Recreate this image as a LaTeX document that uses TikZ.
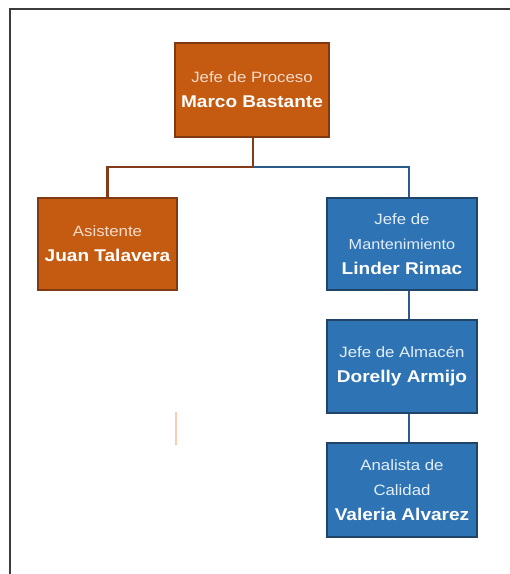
\documentclass[tikz,border=0pt]{standalone}
\usepackage{fontspec}
\setmainfont{Liberation Sans}[FakeStretch=1.12]
\usetikzlibrary{calc}
\definecolor{orgfill}{HTML}{C55A11}
\definecolor{orgline}{HTML}{7F3A12}
\definecolor{bluefill}{HTML}{2E74B5}
\definecolor{blueline}{HTML}{1F4468}
\definecolor{orgwire}{HTML}{843C18}
\definecolor{bluewire}{HTML}{2B5B8A}
\definecolor{orgtext}{HTML}{F6DCCB}
\definecolor{bluetext}{HTML}{E4EEF8}
\definecolor{frameline}{HTML}{3C3C3C}
\definecolor{paleorg}{HTML}{F9CDAE}
\tikzset{
  box/.style={draw, line width=2pt, align=center, inner sep=0pt,
    font=\fontsize{15}{25}\selectfont},
  orgbox/.style={box, fill=orgfill, draw=orgline, text=orgtext},
  bluebox/.style={box, fill=bluefill, draw=blueline, text=bluetext},
  orgwire/.style={draw=orgwire, line width=2.4pt},
  bluewire/.style={draw=bluewire, line width=2.4pt},
}
\newcommand{\who}[1]{{\fontsize{17}{25}\selectfont\bfseries\color{white}#1}}
\begin{document}
\begin{tikzpicture}[x=1pt,y=-1pt]
\useasboundingbox (0,0) rectangle (510,574);
% page frame (only left and top edges inside the view)
\draw[frameline, line width=2pt] (10,574) -- (10,9) -- (510,9);

% boxes
\node[orgbox, minimum width=154pt, minimum height=94pt] (jefe) at (252,90)
  {Jefe de Proceso\\\who{Marco Bastante}};
\node[orgbox, minimum width=139pt, minimum height=92pt] (asist) at (107.5,244)
  {Asistente\\\who{Juan Talavera}};
\node[bluebox, minimum width=150pt, minimum height=92pt] (mant) at (402,244)
  {Jefe de\\{\fontsize{14.5}{25}\selectfont Mantenimiento}\\\who{Linder Rimac}};
\node[bluebox, minimum width=150pt, minimum height=93pt] (alm) at (402,366.5)
  {Jefe de Almacén\\\who{Dorelly Armijo}};
\node[bluebox, minimum width=150pt, minimum height=94pt] (cal) at (402,490)
  {Analista de\\Calidad\\\who{Valeria Alvarez}};

% connectors
\coordinate (bus) at (253,167);
\coordinate (rx) at (409,167);
\draw[orgwire] (jefe.south -| bus) -- (bus) -| (asist.north);
\draw[bluewire] (bus) -- (rx) -- (rx |- mant.north);
\draw[bluewire] (rx |- mant.south) -- (rx |- alm.north);
\draw[bluewire] (rx |- alm.south) -- (rx |- cal.north);

% faint mark below the assistant box
\draw[paleorg, line width=2pt] (176,412) -- (176,445);
\end{tikzpicture}
\end{document}
